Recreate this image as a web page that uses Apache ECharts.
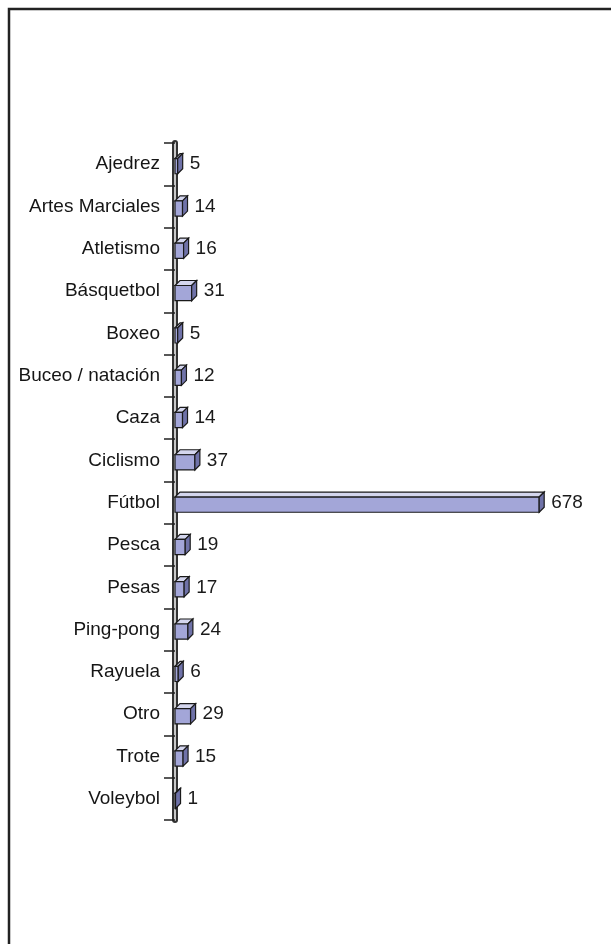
<!DOCTYPE html>
<html>
<head>
<meta charset="utf-8">
<script src="https://cdn.jsdelivr.net/npm/echarts@6/dist/echarts.min.js"></script>
<style>html,body{margin:0;padding:0;background:#fff;}#c{width:611px;height:944px;}</style>
</head>
<body>
<div id="c"></div>
<script>
const categories = ['Ajedrez','Artes Marciales','Atletismo','Básquetbol','Boxeo','Buceo / natación','Caza','Ciclismo','Fútbol','Pesca','Pesas','Ping-pong','Rayuela','Otro','Trote','Voleybol'];
const values = [5,14,16,31,5,12,14,37,678,19,17,24,6,29,15,1];

const chart = echarts.init(document.getElementById('c'));
const DEPTH = 5;
const FONT = 'Liberation Sans, Arial, sans-serif';

function renderBar(params, api) {
  const v = api.value(0), cat = api.value(1);
  const s = api.coord([0, cat]);
  const e = api.coord([v, cat]);
  const band = api.size([0, 1])[1];
  const h = band * 0.36;
  const x0 = s[0], x1 = e[0];
  const y0 = s[1] - h / 2 + 2, y1 = y0 + h;
  const d = DEPTH;
  const stroke = '#1a1a1a';
  return {
    type: 'group',
    children: [
      { type: 'polygon', shape: { points: [[x0, y0], [x0 + d, y0 - d], [x1 + d, y0 - d], [x1, y0]] },
        style: { fill: '#d4d6ee', stroke: stroke, lineWidth: 1.2 } },
      { type: 'rect', shape: { x: x0, y: y0, width: Math.max(x1 - x0, 1), height: h },
        style: { fill: '#a3a6d8', stroke: stroke, lineWidth: 1.2 } },
      { type: 'polygon', shape: { points: [[x1, y0], [x1 + d, y0 - d], [x1 + d, y1 - d], [x1, y1]] },
        style: { fill: '#6f72a8', stroke: stroke, lineWidth: 1.2 } },
      { type: 'text', style: { text: String(v), x: x1 + d + 7, y: s[1], verticalAlign: 'middle', align: 'left',
        fill: '#1a1a1a', font: '19px ' + FONT } }
    ]
  };
}

chart.setOption({
  animation: false,
  backgroundColor: '#fff',
  grid: { left: 175, right: 60, top: 143, bottom: 124 },
  xAxis: { type: 'value', min: 0, max: 700, show: false },
  yAxis: [
    { type: 'category', data: categories, inverse: true, position: 'left',
      axisLine: { show: true, lineStyle: { color: '#333', width: 6 } },
      axisTick: { show: true, length: 11, lineStyle: { color: '#222', width: 1.5 } },
      axisLabel: { margin: 15, color: '#151515', fontSize: 19, fontFamily: FONT },
      splitLine: { show: false } },
    { type: 'category', data: categories, inverse: true, position: 'left',
      axisLine: { show: true, lineStyle: { color: '#c8c8c8', width: 2 } },
      axisTick: { show: false }, axisLabel: { show: false }, splitLine: { show: false } }
  ],
  series: [{
    type: 'custom',
    renderItem: renderBar,
    encode: { x: 0, y: 1 },
    data: values.map((v, i) => [v, i]),
    z: 5
  }],
  graphic: [
    { type: 'rect', shape: { x: 9, y: 9, width: 700, height: 1000 },
      style: { fill: 'none', stroke: '#222', lineWidth: 2.5 }, z: 10 }
  ]
});
</script>
</body>
</html>
